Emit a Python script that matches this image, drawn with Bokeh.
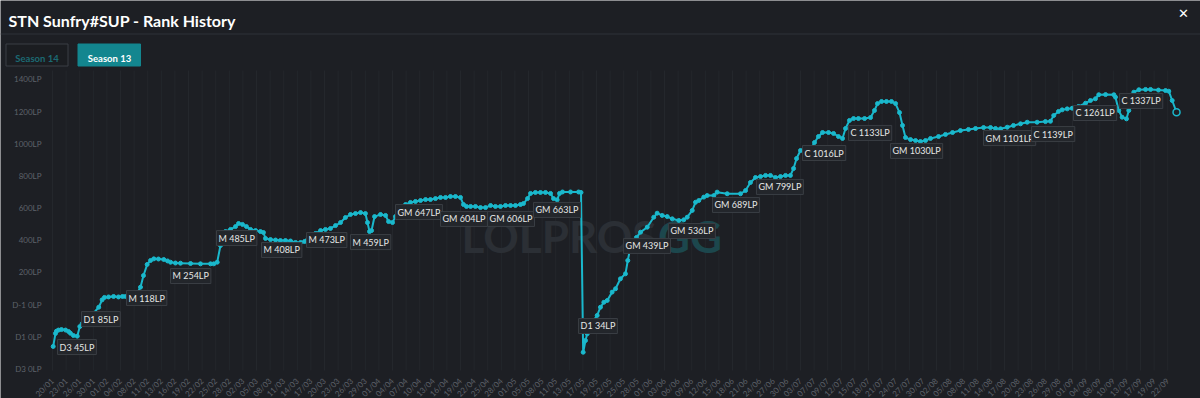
import math
from bokeh.plotting import figure
from bokeh.models import FixedTicker, Range1d
from bokeh.embed import file_html
from bokeh.resources import INLINE
from bokeh.core.properties import value

# ---------------- data ----------------
date_labels = ["20/01","23/01","26/01","30/01","01/02","04/02","08/02","11/02","13/02","16/02",
               "19/02","22/02","25/02","28/02","02/03","05/03","08/03","11/03","14/03","17/03",
               "20/03","23/03","26/03","29/03","01/04","04/04","07/04","10/04","13/04","16/04",
               "19/04","22/04","25/04","28/04","01/05","05/05","08/05","11/05","13/05","17/05",
               "19/05","22/05","25/05","28/05","01/06","03/06","06/06","09/06","12/06","15/06",
               "18/06","21/06","24/06","27/06","30/06","03/07","07/07","09/07","12/07","15/07",
               "18/07","21/07","24/07","27/07","30/07","02/08","05/08","08/08","11/08","14/08",
               "17/08","20/08","23/08","26/08","29/08","01/09","04/09","08/09","10/09","13/09",
               "17/09","19/09","22/09"]

y_ticks = [-400, -200, 0, 200, 400, 600, 800, 1000, 1200, 1400]
y_tick_labels = ["D3 0LP", "D1 0LP", "D-1 0LP", "200LP", "400LP", "600LP",
                 "800LP", "1000LP", "1200LP", "1400LP"]

# position along the date axis (in tick units) and rank value (LP scale)
x_pos = [0.05,0.22,0.29,0.44,0.66,0.96,1.18,1.32,1.54,1.82,2.01,2.18,2.79,3.40,3.65,3.82,4.12,4.49,4.85,5.15,
         5.37,5.74,6.10,6.47,6.69,6.96,7.21,7.45,7.79,8.18,8.46,8.68,9.04,9.41,10.15,10.88,11.62,11.86,12.11,12.35,
         12.50,12.72,13.09,13.46,13.68,13.97,14.26,14.56,14.93,15.29,15.51,15.66,16.03,16.40,16.76,17.13,17.50,17.87,18.24,18.53,
         18.82,18.97,19.34,19.71,20.07,20.44,20.81,21.18,21.54,21.91,22.28,22.65,23.01,23.16,23.31,23.46,23.68,24.12,24.49,24.71,
         25.00,25.22,25.59,25.96,26.32,26.69,27.06,27.43,27.79,28.16,28.53,28.90,29.26,29.63,30.00,30.22,30.44,30.74,31.10,31.47,
         31.84,32.21,32.57,32.94,33.31,33.68,34.04,34.41,34.63,34.93,35.15,35.51,35.88,36.25,36.62,36.84,37.11,37.28,37.50,38.09,
         38.68,38.86,39.02,39.19,39.32,39.56,39.78,40.05,40.29,40.54,40.79,41.15,41.40,41.76,42.13,42.30,42.45,42.63,42.94,43.24,
         43.73,44.21,44.46,44.83,45.20,45.57,46.05,46.42,46.67,47.04,47.28,47.52,47.89,48.14,48.63,48.87,49.61,50.59,50.96,51.32,
         51.69,52.06,52.43,52.79,53.16,53.53,53.90,54.26,54.49,54.71,55.00,55.37,55.74,56.03,56.32,56.62,57.06,57.43,57.79,58.09,
         58.31,58.60,58.90,59.26,59.71,60.15,60.44,60.66,60.96,61.32,61.69,61.99,62.28,62.50,62.72,63.09,63.46,63.82,64.19,64.56,
         65.15,65.66,66.18,66.76,67.35,67.87,68.46,68.97,69.34,69.71,70.20,70.66,71.18,71.67,72.40,73.01,73.38,73.62,73.97,74.24,
         74.61,74.98,75.44,75.96,76.32,76.69,76.93,77.43,78.04,78.16,78.40,78.65,78.97,79.14,79.51,79.88,80.37,80.74,81.32,81.84,
         82.08,82.33,82.65]
lp = [-261,-180,-166,-159,-156,-159,-168,-179,-193,-197,-137,-120,-75,-17,29,44,47,50,47,50,
      50,50,53,108,180,249,274,284,283,280,271,263,258,257,255,253,253,253,263,367,
      448,454,467,485,504,498,485,467,460,454,448,411,404,401,398,398,395,386,386,392,
      423,423,442,460,467,473,491,510,541,560,566,572,566,510,454,460,547,560,554,516,
      510,547,585,622,635,641,647,653,653,659,666,666,672,672,666,622,610,610,610,603,
      603,616,610,610,616,616,616,622,628,659,691,697,697,697,691,659,651,691,700,700,
      700,697,-297,-224,-182,-131,-100,-68,-17,14,25,77,98,160,191,274,336,378,417,450,
      481,543,568,554,547,533,523,527,543,585,636,647,668,678,678,699,689,689,709,759,
      790,796,803,803,790,796,803,803,846,908,958,958,964,1008,1045,1070,1070,1064,1045,1033,
      1095,1145,1157,1157,1157,1163,1207,1250,1263,1263,1263,1250,1194,1114,1039,1026,1020,1014,1020,1033,
      1045,1058,1070,1082,1089,1095,1101,1101,1095,1093,1103,1114,1124,1134,1134,1138,1140,1176,1201,1211,
      1217,1221,1232,1252,1269,1280,1305,1306,1305,1290,1207,1165,1155,1207,1321,1336,1338,1338,1334,1331,
      1327,1269,1196]

ann_text = ["D3 45LP","D1 85LP","M 118LP","M 254LP","M 485LP","M 408LP","M 473LP","M 459LP",
            "GM 647LP","GM 604LP","GM 606LP","GM 663LP","D1 34LP","GM 439LP","GM 536LP","GM 689LP",
            "GM 799LP","C 1016LP","C 1133LP","GM 1030LP","GM 1101LP","C 1139LP","C 1261LP","C 1337LP"]
ann_x = [0.37,2.13,5.44,8.68,12.06,15.37,18.68,21.91,25.22,28.53,31.99,35.37,38.68,41.99,45.29,48.53,
         51.76,55.15,58.53,61.62,68.46,71.99,75.07,78.46]
ann_y = [-218,-44,87,224,460,386,448,435,622,579,579,635,-87,411,504,666,
         778,989,1114,1002,1082,1107,1238,1313]

title_text = "STN Sunfry#SUP - Rank History"
season_buttons = ["Season 14", "Season 13"]

# ---------------- style / layout ----------------
BG = "#1d1f24"
CYAN = "#1ab8cc"
AXIS_TXT = "#5e626a"
FONT = value("Lato")
W, H = 1200, 398

# pixel -> data helpers for page chrome (the frame fills the whole canvas)
def dx(px):
    return (px - 52) / 13.6

def dy(py):
    return (368.3 - py) * 6.221 - 400

p = figure(width=W, height=H, x_range=Range1d(dx(0), dx(W)), y_range=Range1d(dy(H), dy(0)),
           output_backend="svg", toolbar_location=None,
           min_border=0, min_border_left=0, min_border_right=0, min_border_top=0, min_border_bottom=0)
p.background_fill_color = BG
p.border_fill_color = BG
p.outline_line_color = None
p.xgrid.visible = False
p.ygrid.visible = False

tick_idx = list(range(len(date_labels)))
p.yaxis.ticker = FixedTicker(ticks=y_ticks)
p.yaxis.major_label_overrides = dict(zip(y_ticks, y_tick_labels))
p.yaxis.fixed_location = dx(50)
p.xaxis.ticker = FixedTicker(ticks=tick_idx)
p.xaxis.major_label_overrides = dict(zip(tick_idx, date_labels))
p.xaxis.major_label_orientation = math.pi / 4
p.xaxis.fixed_location = dy(370)
for ax in (p.xaxis, p.yaxis):
    ax.axis_line_color = None
    ax.major_tick_line_color = None
    ax.minor_tick_line_color = None
    ax.major_label_text_color = AXIS_TXT
    ax.major_label_text_font = "Lato"
    ax.major_label_standoff = 3
p.yaxis.major_label_text_font_size = "8px"
p.xaxis.major_label_text_font_size = "8px"

# faint vertical grid, only across the plotting area
p.segment(x0=tick_idx, y0=[dy(370)] * len(tick_idx), x1=tick_idx, y1=[dy(70)] * len(tick_idx),
          line_color="#24272c", line_width=1)

# ---------------- header ----------------
p.text(x=[dx(8)], y=[dy(19.5)], text=[title_text], text_font=FONT, text_font_style="bold",
       text_font_size="16px", text_color="#ffffff", text_baseline="alphabetic", text_align="left")
p.text(x=[dx(1183)], y=[dy(13)], text=["\u2715"], text_font=value("DejaVu Sans"),
       text_font_style="bold", text_font_size="13px", text_color="#ffffff",
       text_baseline="middle", text_align="center")
p.segment(x0=[dx(0)], y0=[dy(33.5)], x1=[dx(W)], y1=[dy(33.5)], line_color="#2f3238", line_width=1)
p.quad(left=[dx(5.5), dx(77.5)], right=[dx(67.5), dx(140)], top=[dy(43.5), dy(43.5)],
       bottom=[dy(65.5), dy(65.5)], fill_color=["#1b1d21", "#13868f"],
       line_color=["#3a3e45", "#13868f"], line_width=1)
p.text(x=[dx(36.5), dx(109)], y=[dy(57.5), dy(57.5)], text=season_buttons, text_font=FONT,
       text_font_style="bold", text_font_size="9.5px", text_color=["#1b6a73", "#ffffff"],
       text_baseline="alphabetic", text_align="center")

# ---------------- chart body ----------------
p.text(x=[dx(461)], y=[dy(235)], text=["LOLPROS"], text_font=FONT, text_font_style="bold",
       text_font_size="44px", text_color="#2b2f35", text_baseline="middle", text_align="left")
p.text(x=[dx(648)], y=[dy(235)], text=[".GG"], text_font=FONT, text_font_style="bold",
       text_font_size="44px", text_color="#1c474d", text_baseline="middle", text_align="left")

p.line(x_pos, lp, line_color=CYAN, line_width=2)
p.scatter(x_pos, lp, size=4, fill_color=CYAN, line_color=CYAN)
p.scatter(x_pos[-1:], lp[-1:], size=7, fill_color=BG, line_color=CYAN, line_width=1.5)

p.text(x=ann_x, y=ann_y, text=ann_text, text_font=FONT, text_font_size="9px",
       text_color="#e6e6e6", text_align="left", text_baseline="top",
       padding=2, background_fill_color="#23262b", border_line_color="#3a3e44", border_line_width=1)

open("out.html", "w").write(file_html(p, INLINE))
